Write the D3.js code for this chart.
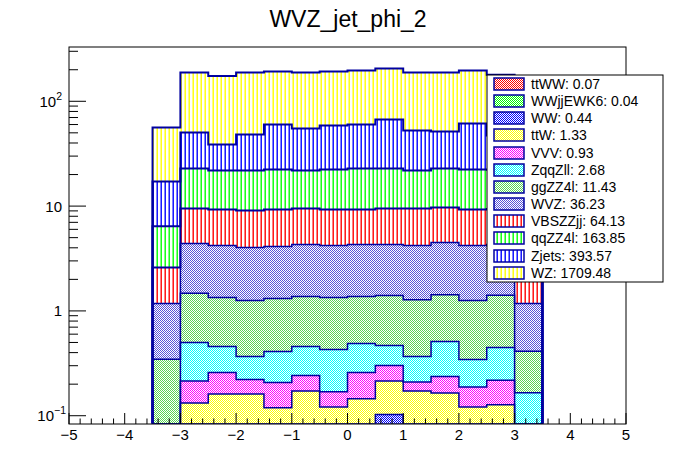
<!DOCTYPE html>
<html><head><meta charset="utf-8">
<script src="https://cdn.jsdelivr.net/npm/d3@7"></script>
<style>
body{margin:0;background:#fff;}
text{font-family:"Liberation Sans",Arial,Helvetica,sans-serif;fill:#000;}
</style>
</head><body>
<svg id="c" width="696" height="472"></svg>
<script>
// ---------------- data ----------------
const binLow = [-3.5,-3,-2.5,-2,-1.5,-1,-0.5,0,0.5,1,1.5,2,2.5,3];
const binWidth = 0.5;
const processes = ["ttWW","WWjjEWK6","WW","ttW","VVV","ZqqZll","ggZZ4l","WVZ","VBSZZjj","qqZZ4l","Zjets","WZ"];
const ttWW     = [0.002,0.005,0.005,0.006,0.005,0.006,0.005,0.006,0.008,0.006,0.005,0.006,0.005,0.002];
const WWjjEWK6 = [0.001,0.003,0.003,0.003,0.003,0.003,0.003,0.003,0.004,0.003,0.003,0.003,0.003,0.001];
const WW       = [0.007,0.032,0.032,0.031,0.022,0.031,0.022,0.031,0.091,0.031,0.022,0.021,0.022,0.007];
const ttW      = [0.020,0.092,0.121,0.121,0.089,0.132,0.091,0.105,0.112,0.132,0.135,0.091,0.097,0.030];
const VVV      = [0.020,0.083,0.097,0.060,0.088,0.070,0.048,0.113,0.086,0.038,0.072,0.067,0.091,0.020];
const ZqqZll   = [0.020,0.285,0.199,0.146,0.203,0.215,0.259,0.231,0.167,0.157,0.273,0.156,0.230,0.106];
const ggZZ4l   = [0.276,0.970,0.883,0.893,0.900,0.913,0.912,0.881,0.932,0.913,0.920,0.916,0.962,0.246];
const WVZ      = [0.834,2.93,2.87,2.77,2.81,2.93,2.87,2.93,2.90,2.93,3.07,2.95,2.89,0.768];
const VBSZZjj  = [1.42,5.09,5.07,5.05,5.16,5.19,5.07,4.98,5.19,5.28,5.20,5.07,5.10,1.42];
const qqZZ4l   = [3.83,13.31,12.62,12.82,13.12,12.41,13.12,13.52,13.31,12.41,13.10,13.12,12.80,3.80];
const Zjets    = [10.77,27.6,16.8,26.3,37.7,33.1,36.4,37.3,44.2,30.7,28.7,39.0,25.0,4.0];
const WZ       = [39.1,137.6,135.3,139.8,131.9,133.0,133.2,136.9,139.0,135.4,136.5,135.6,131.8,45.6];
const seriesValues = [ttWW,WWjjEWK6,WW,ttW,VVV,ZqqZll,ggZZ4l,WVZ,VBSZZjj,qqZZ4l,Zjets,WZ];
const legendLabels = ["ttWW: 0.07","WWjjEWK6: 0.04","WW: 0.44","ttW: 1.33","VVV: 0.93","ZqqZll: 2.68",
                      "ggZZ4l: 11.43","WVZ: 36.23","VBSZZjj: 64.13","qqZZ4l: 163.85","Zjets: 393.57","WZ: 1709.48"];
const xTicks = [-5,-4,-3,-2,-1,0,1,2,3,4,5];
const yTickExps = [-1,0,1,2];
const title = "WVZ_jet_phi_2";

// ---------------- styles ----------------
const style = {
  ttWW:{type:"checker",color:"#ff0000"},
  WWjjEWK6:{type:"checker",color:"#00ff00"},
  WW:{type:"checker",color:"#0000ff"},
  ttW:{type:"checker",color:"#ffff00"},
  VVV:{type:"checker",color:"#ff00ff"},
  ZqqZll:{type:"checker",color:"#00ffff"},
  ggZZ4l:{type:"checker",color:"#59d454"},
  WVZ:{type:"checker",color:"#5954d8"},
  VBSZZjj:{type:"vline",color:"#ff0000"},
  qqZZ4l:{type:"vline",color:"#00ff00"},
  Zjets:{type:"vline",color:"#0000ff"},
  WZ:{type:"vline",color:"#ffff00"}
};
const lineColor = "#0000a0";

const W = 696, H = 472;
const frame = {l:69, r:626, t:47, b:424};
const svg = d3.select("#c");
svg.append("rect").attr("width",W).attr("height",H).attr("fill","#fff");

const x = d3.scaleLinear().domain([-5,5]).range([frame.l, frame.r]);
const y = d3.scaleLog().domain([Math.pow(10,-1.079), Math.pow(10,2.518)]).range([frame.b, frame.t]).clamp(true);
const yMin = y.domain()[0];

// checker tile image built on a canvas (1-px checkerboard)
function checkerURL(color) {
  const n = 8;
  const cv = document.createElement("canvas");
  cv.width = n; cv.height = n;
  const ctx = cv.getContext("2d");
  ctx.fillStyle = "#ffffff"; ctx.fillRect(0,0,n,n);
  ctx.fillStyle = color;
  for (let i = 0; i < n; i++) for (let j = 0; j < n; j++) if ((i + j) % 2 === 0) ctx.fillRect(i,j,1,1);
  return cv.toDataURL("image/png");
}

// patterns
const defs = svg.append("defs");
processes.forEach(p => {
  const s = style[p];
  if (s.type === "checker") {
    const pat = defs.append("pattern").attr("id","pat_"+p).attr("patternUnits","userSpaceOnUse")
      .attr("width",8).attr("height",8);
    pat.append("image").attr("href", checkerURL(s.color)).attr("x",0).attr("y",0)
      .attr("width",8).attr("height",8).style("image-rendering","pixelated");
  } else {
    const pat = defs.append("pattern").attr("id","pat_"+p).attr("patternUnits","userSpaceOnUse")
      .attr("width",4).attr("height",4);
    pat.append("rect").attr("width",4).attr("height",4).attr("fill","#fff");
    pat.append("rect").attr("x",0.5).attr("y",0).attr("width",1.4).attr("height",4).attr("fill",s.color);
  }
});
defs.append("clipPath").attr("id","frameClip").append("rect")
  .attr("x",frame.l).attr("y",frame.t).attr("width",frame.r-frame.l).attr("height",frame.b-frame.t-0.5);

// stack
const rows = binLow.map((b,i) => {
  const r = {x0:b};
  processes.forEach((p,k) => r[p] = seriesValues[k][i]);
  return r;
});
const stacked = d3.stack().keys(processes)(rows);

const plot = svg.append("g").attr("clip-path","url(#frameClip)");

const area = d3.area().curve(d3.curveStepAfter)
  .x(d => Math.round(x(d.x))).y0(d => Math.round(y(Math.max(d.lo, yMin)))).y1(d => Math.round(y(Math.max(d.hi, yMin))));
const line = d3.line().curve(d3.curveStepAfter).x(d => x(d.x)).y(d => y(Math.max(d.v, yMin)));

const bands = stacked.map(s => {
  const pts = s.map((d,i) => ({x:binLow[i], lo:d[0], hi:d[1]}));
  const last = s[s.length-1];
  pts.push({x:binLow[binLow.length-1]+binWidth, lo:last[0], hi:last[1]});
  return {key:s.key, pts};
});

// fills
bands.forEach(b => {
  plot.append("path").attr("d", area(b.pts)).attr("fill","url(#pat_"+b.key+")").attr("stroke","none")
    .attr("shape-rendering","crispEdges");
});
// outlines (largest drawn first, smaller on top)
bands.slice().reverse().forEach(b => {
  const s = style[b.key];
  const pts = [{x:binLow[0], v:yMin}].concat(b.pts.map(p => ({x:p.x, v:p.hi})));
  pts.push({x:binLow[binLow.length-1]+binWidth, v:yMin});
  plot.append("path").attr("d", line(pts)).attr("fill","none")
    .attr("stroke",lineColor).attr("stroke-width", s.type==="vline" ? 2 : 1.5);
});

// frame
svg.append("rect").attr("x",frame.l).attr("y",frame.t).attr("width",frame.r-frame.l).attr("height",frame.b-frame.t)
  .attr("fill","none").attr("stroke","#000").attr("stroke-width",1);

// x axis ticks
const axG = svg.append("g").attr("stroke","#000").attr("stroke-width",1);
for (let t = -5; t <= 5.0001; t += 0.2) {
  const tt = Math.round(t*10)/10;
  const major = Math.abs(tt - Math.round(tt)) < 1e-6;
  axG.append("line").attr("x1",x(tt)).attr("x2",x(tt)).attr("y1",frame.b).attr("y2",frame.b-(major?11:5.5));
}
svg.append("g").selectAll("text").data(xTicks).join("text")
  .attr("x",d => x(d)).attr("y",439.5).attr("text-anchor","middle").attr("font-size",15)
  .text(d => d < 0 ? "\u2212"+Math.abs(d) : String(d));

// y axis ticks
yTickExps.forEach(e => {
  for (let m = 1; m <= 9; m++) {
    const v = m*Math.pow(10,e);
    if (v < y.domain()[0] || v > y.domain()[1]) continue;
    axG.append("line").attr("x1",frame.l).attr("x2",frame.l+(m===1?17:9)).attr("y1",y(v)).attr("y2",y(v));
  }
});
const yl = svg.append("g");
yTickExps.forEach(e => {
  const ty = y(Math.pow(10,e)) + 5.5;
  const t = yl.append("text").attr("x", e < 0 ? 66 : 62).attr("y",ty).attr("text-anchor","end").attr("font-size",15);
  if (e === 0) t.text("1");
  else if (e === 1) t.text("10");
  else {
    t.append("tspan").text("10");
    t.append("tspan").attr("font-size",10.5).attr("dy",-7).text(e < 0 ? "\u2212"+Math.abs(e) : String(e));
  }
});

// title
svg.append("text").attr("x",348).attr("y",27).attr("text-anchor","middle").attr("font-size",23).text(title);

// legend
const lg = {x:487, y:75, w:176, h:207};
svg.append("rect").attr("x",lg.x).attr("y",lg.y).attr("width",lg.w).attr("height",lg.h)
  .attr("fill","#fff").attr("stroke","#000").attr("stroke-width",1);
const rowH = 17.15;
processes.forEach((p,i) => {
  const cy = 84 + i*rowH;
  svg.append("rect").attr("x",494).attr("y",Math.round(cy-6)).attr("width",30).attr("height",12)
    .attr("fill","url(#pat_"+p+")").attr("stroke",lineColor).attr("stroke-width",1.5);
  svg.append("text").attr("x",531).attr("y",cy+5).attr("font-size",14).text(legendLabels[i]);
});
</script>
</body></html>
